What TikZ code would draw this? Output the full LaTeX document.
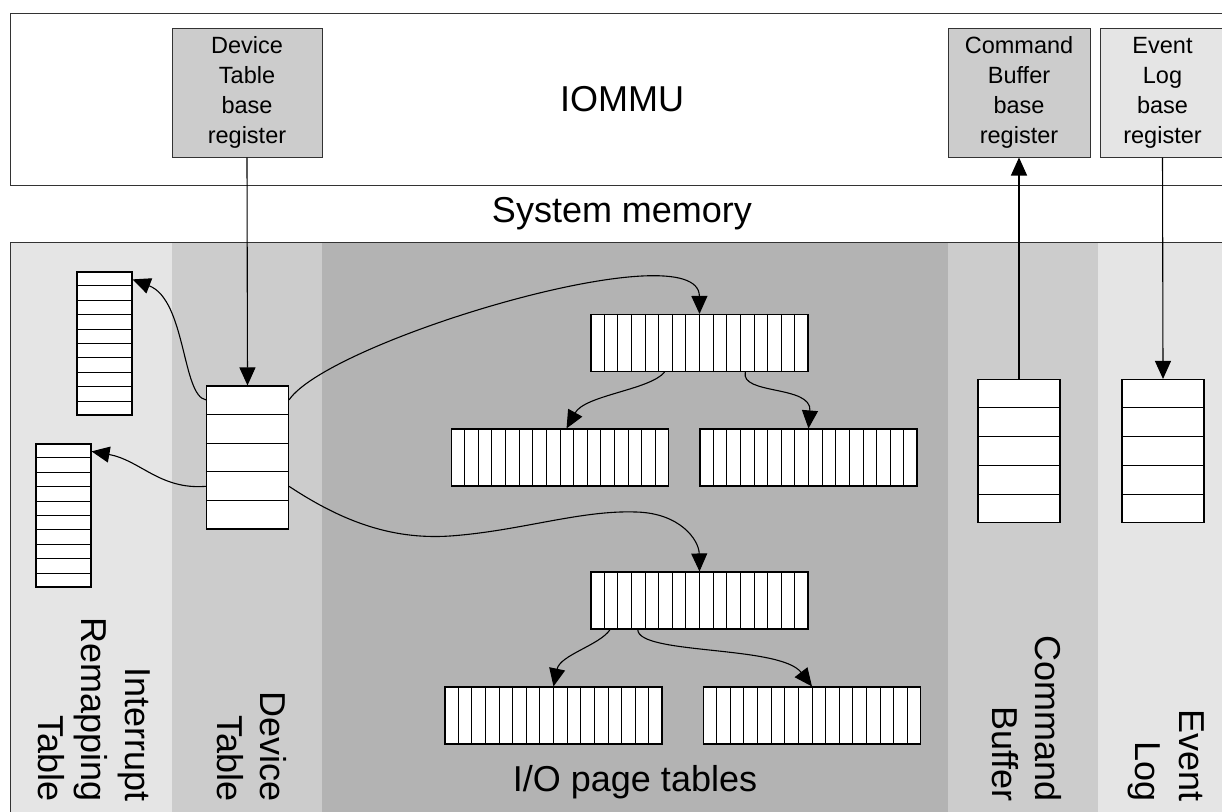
\documentclass[tikz,border=0pt]{standalone}
\usepackage{fontspec}
\setmainfont{Liberation Sans}
\usetikzlibrary{arrows.meta,calc}

\definecolor{shadeA}{HTML}{E5E5E5}
\definecolor{shadeB}{HTML}{CCCCCC}
\definecolor{shadeC}{HTML}{B3B3B3}
\definecolor{edgegray}{HTML}{333333}

% horizontal separators of a stacked table (#2 = number of inner lines)
\newcommand\rowlines[2]{%
  \foreach \k in {1,...,#2}{%
    \draw[cellline] ($(#1.north west)!\k/(#2+1)!(#1.south west)$) --
                    ($(#1.north east)!\k/(#2+1)!(#1.south east)$);}}
% vertical separators of a page table
\newcommand\collines[2]{%
  \foreach \k in {1,...,#2}{%
    \draw[cellline] ($(#1.north west)!\k/(#2+1)!(#1.north east)$) --
                    ($(#1.south west)!\k/(#2+1)!(#1.south east)$);}}

\begin{document}
\begin{tikzpicture}[x=1pt,y=-1pt,
  bigtext/.style={font=\fontsize{36}{43.5}\selectfont, inner sep=0pt},
  vlabel/.style={bigtext, rotate=-90, anchor=north east, align=right},
  regbox/.style={draw=edgegray, line width=1pt, minimum height=129pt, align=center,
    inner sep=0pt, font=\fontsize{23.5}{30}\selectfont},
  rowtab/.style={draw=black, line width=1.1pt, fill=white, minimum width=82pt,
    minimum height=143pt, inner sep=0pt},
  irtab/.style={rowtab, minimum width=55pt},
  pagetab/.style={draw=black, line width=1.1pt, fill=white, minimum width=217pt,
    minimum height=57pt, inner sep=0pt},
  cellline/.style={line width=0.9pt, draw=black},
  link/.style={draw=black, line width=1.1pt, -{Triangle[length=18pt,width=16pt]}}]

\useasboundingbox (0,0) rectangle (1222,811);
\clip (0,0) rectangle (1222,811);
\fill[white] (0,0) rectangle (1222,811);

% IOMMU block
\draw[edgegray, line width=1pt, fill=white] (10,13) rectangle (1240,185);
\node[bigtext, anchor=base] (iommu) at (622,111) {IOMMU};
\node[regbox, fill=shadeB, minimum width=150pt] (dtreg) at (247,92.5)
  {Device\\Table\\base\\register};
\node[regbox, fill=shadeB, minimum width=142pt] (cbreg) at (1019,92.5)
  {Command\\Buffer\\base\\register};
\node[regbox, fill=shadeA, minimum width=125pt] (elreg) at (1162.5,92.5)
  {Event\\Log\\base\\register};

\node[bigtext, anchor=base] (sysmem) at (622,222) {System memory};

% memory regions
\fill[shadeA] (10,242) rectangle (172,830);
\fill[shadeB] (172,242) rectangle (322,830);
\fill[shadeC] (322,242) rectangle (948,830);
\fill[shadeB] (948,242) rectangle (1098,830);
\fill[shadeA] (1098,242) rectangle (1240,830);
\draw[edgegray, line width=1pt] (10,242) rectangle (1240,830);

% interrupt remapping tables
\node[irtab] (irtA) at (104.5,343.5) {};
\rowlines{irtA}{9}
\node[irtab] (irtB) at (63.5,515.5) {};
\rowlines{irtB}{9}

% device table, command buffer, event log
\node[rowtab] (dt) at (247.5,457.5) {};
\rowlines{dt}{4}
\node[rowtab] (cb) at (1019,451) {};
\rowlines{cb}{4}
\node[rowtab] (el) at (1163,451) {};
\rowlines{el}{4}

% I/O page tables
\node[pagetab] (ptA) at (699.5,343) {};
\node[pagetab] (ptB) at (560,457.5) {};
\node[pagetab] (ptC) at (808.5,457.5) {};
\node[pagetab] (ptD) at (699.5,600.5) {};
\node[pagetab] (ptE) at (553.5,715.5) {};
\node[pagetab] (ptF) at (812,715.5) {};
\foreach \t in {ptA,ptB,ptC,ptD,ptE,ptF}{\collines{\t}{15}}

% connectors
\draw[link] (dtreg.south) -- (dt.north);
\draw[link] ($(dt.north west)!0.1!(dt.south west)$)
  .. controls (182,396) and (186,300) .. ($(irtA.north east)!0.055!(irtA.south east)$);
\draw[link] ($(dt.north west)!0.7!(dt.south west)$)
  .. controls (160,490) and (140,460) .. ($(irtB.north east)!0.055!(irtB.south east)$);
\draw[link] ($(dt.north east)!0.1!(dt.south east)$)
  .. controls (330,340) and (699,230) .. (ptA.north);
\draw[link] ($(dt.north east)!0.7!(dt.south east)$)
  .. controls (340,520) and (390,540) .. (450,536)
  .. controls (520,531) and (580,510) .. (636,512)
  .. controls (680,513) and (699,540) .. (ptD.north);
\draw[link] ($(ptA.south west)!0.34!(ptA.south east)$)
  .. controls (650,390) and (585,395) .. ($(ptB.north west)!0.53!(ptB.north east)$);
\draw[link] ($(ptA.south west)!0.71!(ptA.south east)$)
  .. controls (740,395) and (812,385) .. (ptC.north);
\draw[link] ($(ptD.south west)!0.09!(ptD.south east)$)
  .. controls (600,645) and (560,655) .. (ptE.north);
\draw[link] ($(ptD.south west)!0.217!(ptD.south east)$)
  .. controls (638,655) and (780,645) .. (ptF.north);
\draw[link] (cb.north) -- (cbreg.south);
\draw[link] (elreg.south) -- (el.north);

% region labels
\node[vlabel] (lblirt) at (150,802) {Interrupt\\Remapping\\Table};
\node[vlabel] (lbldt) at (287,802) {Device\\Table};
\node[bigtext, anchor=base] (lblpt) at (635,791) {I/O page tables};
\node[vlabel] (lblcb) at (1062,802) {Command\\Buffer};
\node[vlabel] (lblel) at (1204,802) {Event\\Log};
\end{tikzpicture}
\end{document}
